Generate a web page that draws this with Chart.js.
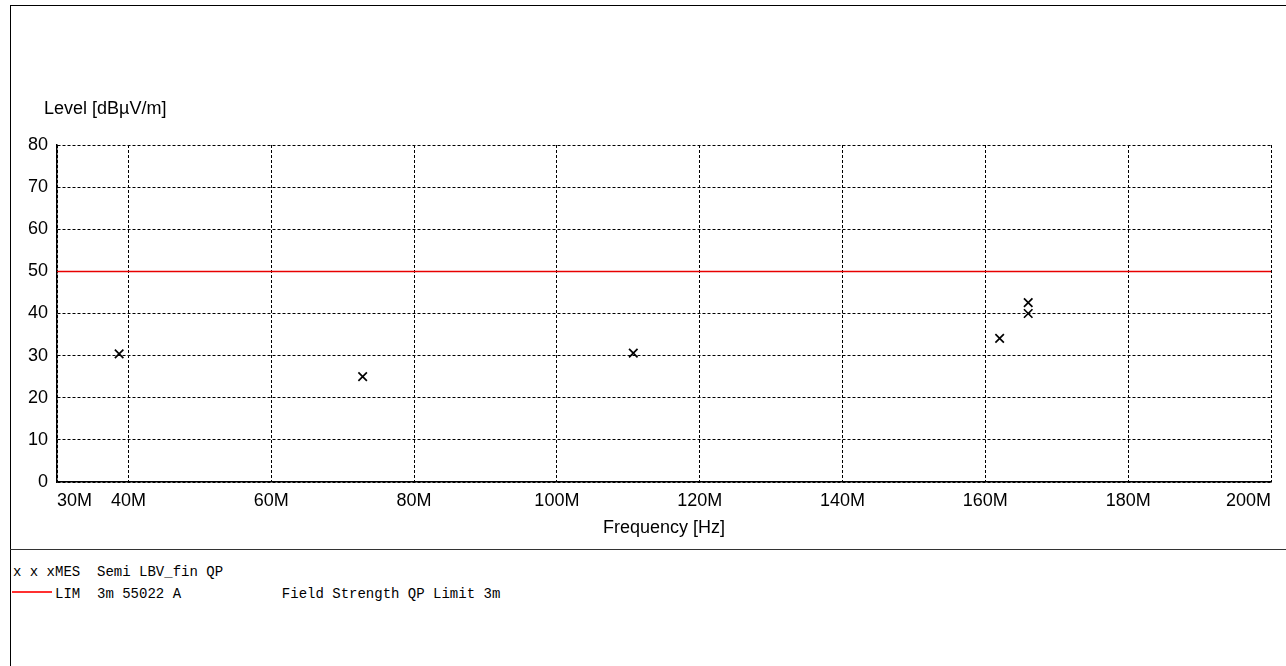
<!DOCTYPE html>
<html lang="en">
<head>
    <meta charset="UTF-8">
    <title>Field Strength QP</title>
    <script src="https://cdn.jsdelivr.net/npm/chart.js"></script>
    <style>
        body { margin: 0; background: #fff; }
        #page { position: relative; width: 1286px; height: 666px; overflow: hidden; }
        #frame { position: absolute; left: 10px; top: 5px; width: 1290px; height: 700px;
                 border-left: 1.5px solid #000; border-top: 1.5px solid #000; }
        #sep { position: absolute; left: 10px; top: 549px; width: 1276px; height: 0;
               border-top: 1px solid #333; }
        #chart { position: absolute; left: 0; top: 0; }
        #ytitle { position: absolute; left: 44px; top: 99px; font: 18px "Liberation Sans", Arial, sans-serif;
                  line-height: 1; color: #000; }
        .leg { position: absolute; left: 13px; font: 14px "Liberation Mono", "Courier New", monospace;
               line-height: 22px; white-space: pre; color: #000; }
        #redline { position: absolute; left: 12px; top: 591px; width: 40px; height: 2px; background: #ff3030; }
    </style>
</head>
<body>
<div id="page">
    <div id="frame"></div>
    <div id="sep"></div>
    <canvas id="chart" width="1286" height="549"></canvas>
    <div id="ytitle">Level [dBµV/m]</div>
    <div class="leg" style="top:561px">x x xMES  Semi LBV_fin QP</div>
    <div id="redline"></div>
    <div class="leg" style="top:583px">     LIM  3m 55022 A            Field Strength QP Limit 3m</div>
</div>

<script>
    // measured QP results
    var freqMHz = [38.7, 72.8, 110.7, 162.0, 166.0, 166.0];
    var levelQP = [30.4, 25.0, 30.6, 34.1, 40.0, 42.6];

    // limit line (3m)
    var limitFreq = [30, 200];
    var limitLevel = [50, 50];

    var xTicks = [30, 40, 60, 80, 100, 120, 140, 160, 180, 200];
    var yTicks = [0, 10, 20, 30, 40, 50, 60, 70, 80];

    var font = { family: '"Liberation Sans", Arial, sans-serif', size: 18 };

    function pts(xs, ys) {
        return xs.map(function (x, i) { return { x: x, y: ys[i] }; });
    }

    var ctx = document.getElementById('chart').getContext('2d');
    var chart = new Chart(ctx, {
        type: 'scatter',
        data: {
            datasets: [{
                label: 'LIM',
                data: pts(limitFreq, limitLevel),
                showLine: true,
                borderColor: '#e80000',
                borderWidth: 1.5,
                pointRadius: 0
            }, {
                label: 'MES',
                data: pts(freqMHz, levelQP),
                showLine: false,
                pointStyle: 'crossRot',
                pointRadius: 6,
                borderColor: '#000',
                borderWidth: 1.7
            }]
        },
        options: {
            responsive: false,
            animation: false,
            devicePixelRatio: 1,
            layout: { padding: { left: 0, top: 145, right: 15, bottom: 0 } },
            plugins: { legend: { display: false }, tooltip: { enabled: false } },
            scales: {
                x: {
                    type: 'linear',
                    min: 30,
                    max: 200,
                    afterBuildTicks: function (s) { s.ticks = xTicks.map(function (v) { return { value: v }; }); },
                    afterFit: function (s) { s.height = 67; s.paddingLeft = 0; s.paddingRight = 0; },
                    ticks: {
                        color: '#000',
                        font: font,
                        padding: 8,
                        align: 'inner',
                        maxRotation: 0,
                        autoSkip: false,
                        callback: function (v) { return v + 'M'; }
                    },
                    grid: { color: '#000', lineWidth: 1, drawTicks: false },
                    border: { display: true, color: '#000', width: 1.5, dash: [3, 2] },
                    title: { display: true, text: 'Frequency [Hz]', color: '#000', font: font, padding: { top: 4, bottom: 10 } }
                },
                y: {
                    min: 0,
                    max: 80,
                    afterBuildTicks: function (s) { s.ticks = yTicks.map(function (v) { return { value: v }; }); },
                    afterFit: function (s) { s.width = 57; },
                    ticks: { color: '#000', font: font, padding: 9 },
                    grid: { color: '#000', lineWidth: 1, drawTicks: false },
                    border: { display: true, color: '#000', width: 1.5, dash: [3, 2] }
                }
            }
        }
    });
</script>
</body>
</html>
